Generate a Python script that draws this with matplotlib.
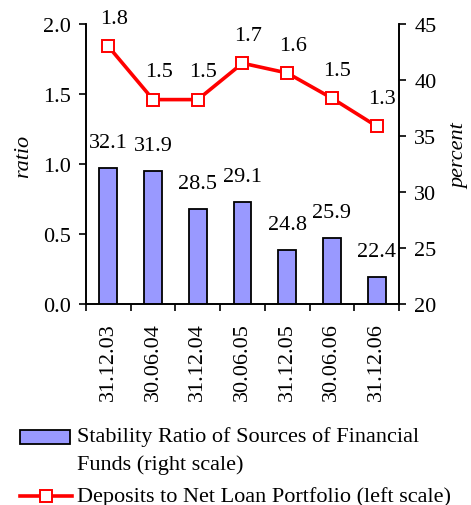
import matplotlib
matplotlib.use("Agg")
import matplotlib.pyplot as plt
from matplotlib.patches import Rectangle
from matplotlib.lines import Line2D

plt.rcParams["font.family"] = ["Liberation Serif", "DejaVu Serif"]
plt.rcParams["font.size"] = 16

dates = ["31.12.03", "30.06.04", "31.12.04", "30.06.05", "31.12.05", "30.06.06", "31.12.06"]
stability = [32.1, 31.9, 28.5, 29.1, 24.8, 25.9, 22.4]
deposits = [1.84, 1.46, 1.46, 1.72, 1.65, 1.47, 1.27]
deposit_labels = ["1.8", "1.5", "1.5", "1.7", "1.6", "1.5", "1.3"]

RED = "#ff0000"
BAR = "#9999ff"

fig = plt.figure(figsize=(4.71, 5.06), dpi=100)
ax = fig.add_axes([0.1826, 0.3972, 0.6645, 0.5534])
ax2 = ax.twinx()

x = list(range(len(dates)))

# bars belong to the right (percent) scale
ax2.bar(x, stability, width=0.4, color=BAR, edgecolor="black", linewidth=1.3, zorder=2)
ax2.set_ylim(20, 45)
ax2.set_yticks([20, 25, 30, 35, 40, 45])
for xi, v in zip(x, stability):
    ax2.annotate(f"{v:.1f}", (xi, v), xytext=(0, 18.5), textcoords="offset points",
                 ha="center", va="center")

# line on the left (ratio) scale, drawn above the bars
ax.set_zorder(ax2.get_zorder() + 1)
ax.patch.set_visible(False)
ax.plot(x, deposits, color=RED, linewidth=2.6, marker="s", markersize=9,
        markerfacecolor="white", markeredgecolor=RED, markeredgewidth=1.4, zorder=3)
for xi, v, lab in zip(x, deposits, deposit_labels):
    ax.annotate(lab, (xi, v), xytext=(4, 20), textcoords="offset points",
                ha="center", va="center", annotation_clip=False)

ax.set_xlim(-0.5, len(dates) - 0.5)
ax.set_ylim(0, 2.0)
ax.set_yticks([0, 0.5, 1.0, 1.5, 2.0])
ax.set_yticklabels([f"{t:.1f}" for t in [0, 0.5, 1.0, 1.5, 2.0]])
ax.set_xticks(x)
ax.set_xticklabels(dates, rotation=90)
ax.set_xticks([i - 0.5 for i in range(len(dates) + 1)], minor=True)
ax.tick_params(axis="x", which="major", length=0, pad=13)
ax.tick_params(axis="x", which="minor", length=5, width=1.2, direction="out")
ax.tick_params(axis="y", length=5, width=1.2, direction="out", pad=6)
ax2.tick_params(axis="y", length=5, width=1.2, direction="out", pad=6)

for a in (ax, ax2):
    a.spines["top"].set_visible(False)
    for s in ("left", "right", "bottom"):
        a.spines[s].set_linewidth(1.2)

ax.set_ylabel("ratio", style="italic")
ax2.set_ylabel("percent", style="italic")
ax.yaxis.set_label_coords(-0.17, 0.53)
ax2.yaxis.set_label_coords(1.163, 0.53)

# legend drawn by hand in figure pixels
W, H = 471, 506
fig.add_artist(Rectangle((20 / W, 1 - 445 / H), 50 / W, 14 / H, transform=fig.transFigure,
                         facecolor=BAR, edgecolor="black", linewidth=1.3))
fig.text(77 / W, 1 - 437 / H, "Stability Ratio of Sources of Financial", va="center")
fig.text(77 / W, 1 - 465 / H, "Funds (right scale)", va="center")
fig.add_artist(Line2D([20 / W, 72 / W], [1 - 497 / H, 1 - 497 / H], transform=fig.transFigure,
                      color=RED, linewidth=2.6))
fig.add_artist(Line2D([46 / W], [1 - 497 / H], transform=fig.transFigure, color=RED,
                      marker="s", markersize=9, markerfacecolor="white", markeredgewidth=1.4))
fig.text(77 / W, 1 - 497 / H, "Deposits to Net Loan Portfolio (left scale)", va="center")

fig.savefig("out.png", dpi=100)
